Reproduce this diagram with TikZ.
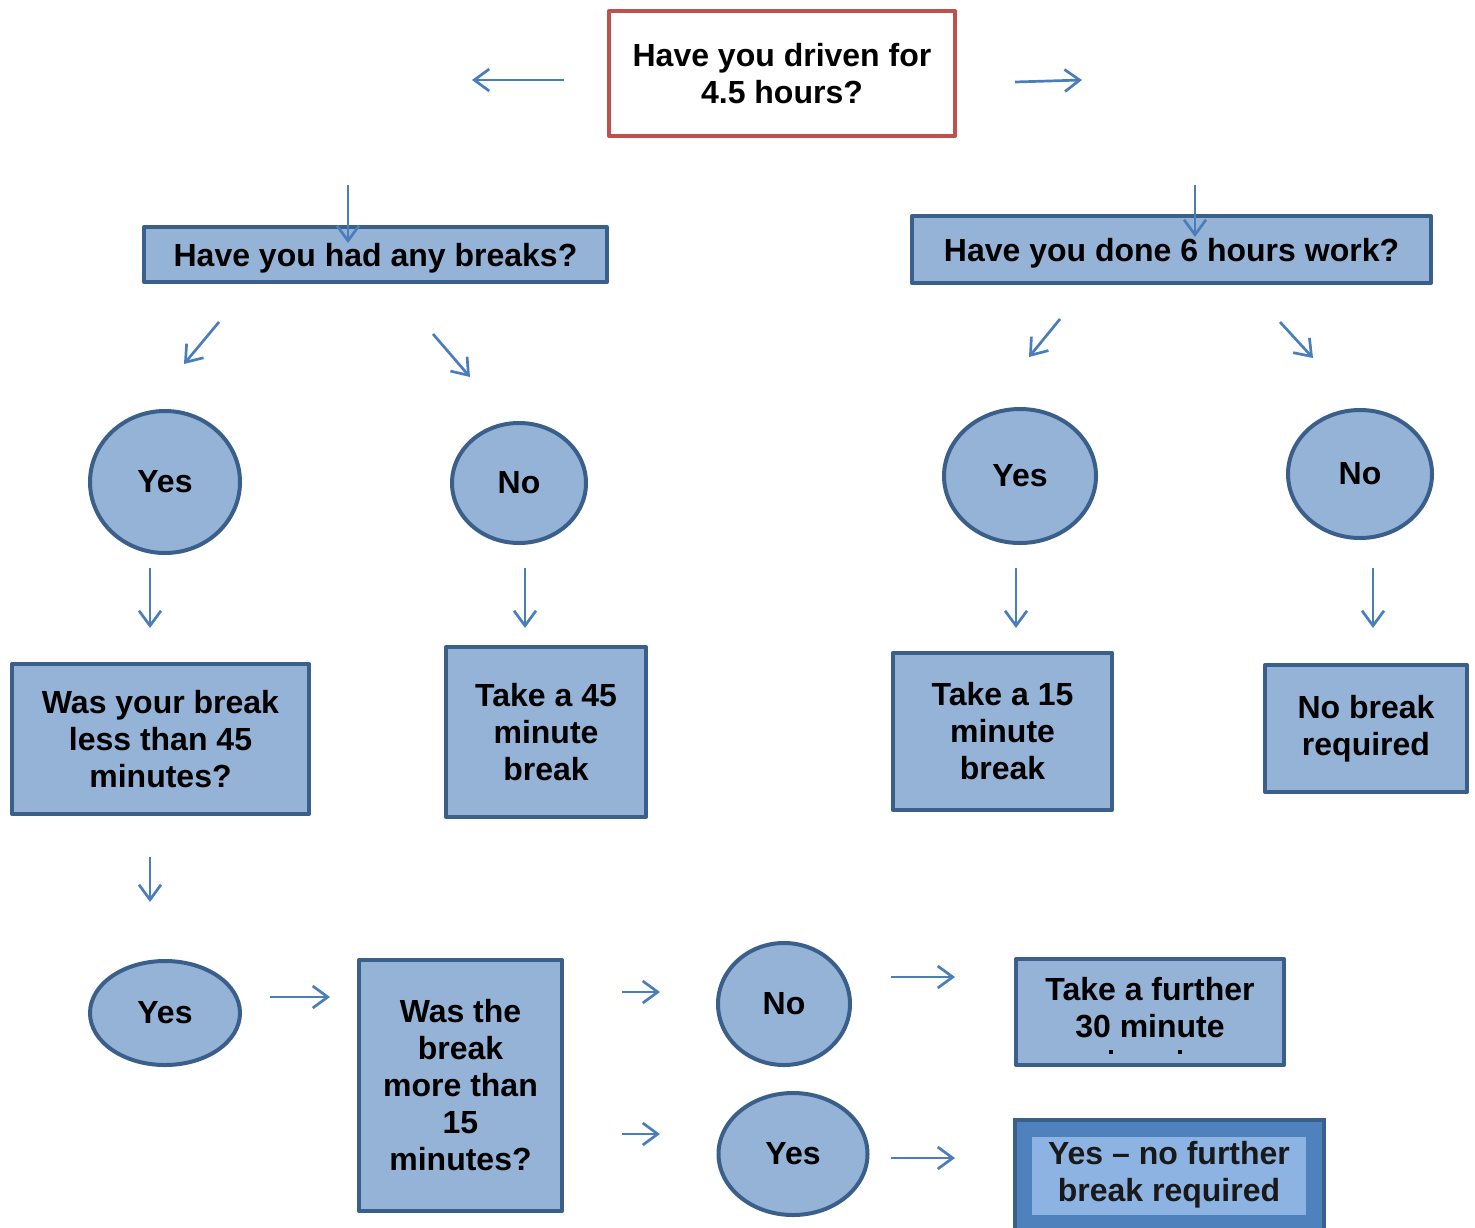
\documentclass[tikz,border=0pt]{standalone}
\usepackage{fontspec}
\setmainfont{Liberation Sans}
\usetikzlibrary{arrows.meta,shapes.geometric}
\definecolor{boxfill}{HTML}{95B3D7}
\definecolor{boxline}{HTML}{3A5F8B}
\definecolor{arrowblue}{HTML}{4A7EBB}
\definecolor{redline}{HTML}{C0504D}
\definecolor{midblue}{HTML}{4F81BD}
\definecolor{lightblue}{HTML}{8DB3E2}
\tikzset{
  txt/.style={font=\fontsize{32}{37}\selectfont\bfseries, align=center, text=black, inner sep=0pt},
  box/.style={txt, rectangle, draw=boxline, fill=boxfill, line width=4pt, line join=round},
  oval/.style={txt, ellipse, draw=boxline, fill=boxfill, line width=4pt},
  conn/.style={draw=arrowblue, line width=2.7pt, -{Straight Barb[length=15pt,width=22pt,line width=2.7pt]}}
}
\begin{document}
\begin{tikzpicture}[x=1pt,y=-1pt]
\useasboundingbox (0,0) rectangle (1475,1227);
% top question
\node[txt, rectangle, draw=redline, fill=white, line width=4pt, line join=round, minimum width=346pt, minimum height=125pt] (top) at (782,73.5) {Have you driven for\\4.5 hours?};
% second row boxes
\node[box, text depth=0pt, minimum width=463pt, minimum height=55pt] (q1) at (375.5,254.5) {Have you had any breaks?};
\node[box, text depth=0pt, minimum width=519pt, minimum height=67pt] (q2) at (1171.5,249.5) {Have you done 6 hours work?};
% ellipses
\node[oval, minimum width=150pt, minimum height=142pt] (e1) at (165,482) {Yes};
\node[oval, minimum width=134pt, minimum height=120pt] (e2) at (519,483) {No};
\node[oval, minimum width=152pt, minimum height=134pt] (e3) at (1020,476) {Yes};
\node[oval, minimum width=144pt, minimum height=128pt] (e4) at (1360,474) {No};
% third row boxes
\node[box, minimum width=297pt, minimum height=150pt] (b1) at (160.5,739) {Was your break\\less than 45\\minutes?};
\node[box, minimum width=200pt, minimum height=170pt] (b2) at (546,732) {Take a 45\\minute\\break};
\node[box, minimum width=219pt, minimum height=157pt] (b3) at (1002.5,731.5) {Take a 15\\minute\\break};
\node[box, minimum width=202pt, minimum height=127pt] (b4) at (1366,728.5) {No break\\required};
% bottom row
\node[oval, minimum width=150pt, minimum height=104pt] (e5) at (165,1013) {Yes};
\node[box, minimum width=203pt, minimum height=251pt] (b5) at (460.5,1085.5) {Was the\\break\\more than\\15\\minutes?};
\node[oval, minimum width=132pt, minimum height=122pt] (e6) at (784,1004) {No};
\node[oval, minimum width=149pt, minimum height=122pt] (e7) at (793,1154) {Yes};
\node[box, minimum width=268pt, minimum height=106pt] (b6) at (1150,1012) {};
\node[txt] (b6t) at (1150,1007.5) {Take a further\\30 minute};
\fill[black] (1109,1050) rectangle (1113,1054);
\fill[black] (1178,1050) rectangle (1182,1054);
% last box (double)
\node[rectangle, draw=boxline, fill=midblue, line width=4pt, minimum width=309pt, minimum height=122pt] (b7) at (1169.5,1181) {};
\node[rectangle, fill=lightblue, minimum width=274pt, minimum height=78pt, inner sep=0pt] (b7i) at (1169,1176) {};
\node[txt, text={black!90}] (b7t) at (1169,1175) {Yes -- no further\\break required};
% free arrows
\coordinate (a1s) at (564,80); \coordinate (a1e) at (472,80);
\coordinate (a2s) at (1015,82); \coordinate (a2e) at (1082,80);
\coordinate (a3s) at (348,185); \coordinate (a3e) at (348,243);
\coordinate (a4s) at (1195,185); \coordinate (a4e) at (1195,237);
\coordinate (a5s) at (219,322); \coordinate (a5e) at (184,364);
\coordinate (a6s) at (433,334); \coordinate (a6e) at (470,377);
\coordinate (a7s) at (1060,319); \coordinate (a7e) at (1029,357);
\coordinate (a8s) at (1280,322); \coordinate (a8e) at (1313,358);
\coordinate (a9s) at (150,568); \coordinate (a9e) at (150,628);
\coordinate (a10s) at (525,568); \coordinate (a10e) at (525,628);
\coordinate (a11s) at (1016,568); \coordinate (a11e) at (1016,628);
\coordinate (a12s) at (1373,568); \coordinate (a12e) at (1373,628);
\coordinate (a13s) at (150,857); \coordinate (a13e) at (150,902);
\coordinate (a14s) at (270,997); \coordinate (a14e) at (330,997);
\coordinate (a15s) at (622,992); \coordinate (a15e) at (660,992);
\coordinate (a16s) at (622,1134); \coordinate (a16e) at (660,1134);
\coordinate (a17s) at (891,977); \coordinate (a17e) at (955,977);
\coordinate (a18s) at (891,1158); \coordinate (a18e) at (955,1158);
\foreach \i in {1,...,18} { \draw[conn] (a\i s) -- (a\i e); }
\end{tikzpicture}
\end{document}
